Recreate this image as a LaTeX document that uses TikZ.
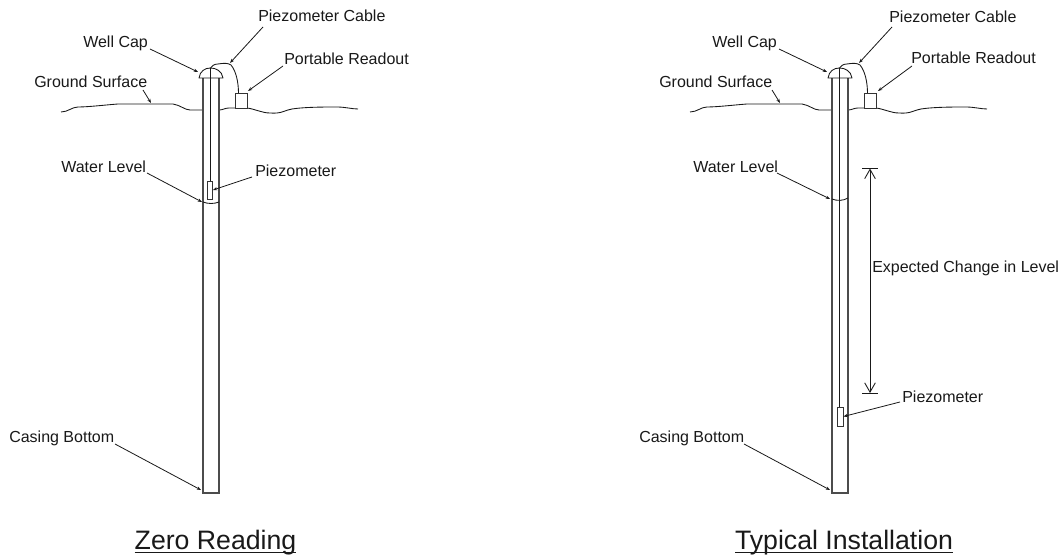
\documentclass[tikz,border=0pt]{standalone}
\usepackage{fontspec}
\setmainfont{Liberation Sans}
\usetikzlibrary{arrows.meta}
\newsavebox{\ttlbox}
\newcommand{\ttlul}[1]{\sbox{\ttlbox}{#1}\rlap{\rule[-3pt]{\wd\ttlbox}{1.1pt}}#1}
\tikzset{
  px/.style={x=0.75pt,y=-0.75pt},
  lbl/.style={inner sep=0pt,anchor=base west,font=\fontsize{12}{14}\selectfont,text=black!90},
  ttl/.style={inner sep=0pt,anchor=base,font=\fontsize{20}{24}\selectfont,text=black!90},
  leader/.style={draw=black!90,line width=0.6pt,-{Stealth[length=3.2pt,width=2.4pt]}},
  casing/.style={draw=black!70,line width=0.8pt},
  thinline/.style={draw=black!90,line width=0.65pt,line join=round},
  partbox/.style={draw=black!80,line width=0.65pt,fill=white,inner sep=0pt,minimum width=0pt},
}
% shared surface installation, drawn at the origin of the enclosing scope
\newcommand{\wellpanel}{%
  \draw[thinline] (61,112) .. controls (68,112) and (72,107) .. (78,107)
    .. controls (88,107) and (105,105) .. (118,104) -- (173,104)
    .. controls (180,105) and (185,110) .. (190,110) -- (203,110);
  \draw[thinline] (219,110) .. controls (223,110) and (225,108) .. (229,108) -- (247,108)
    .. controls (255,109) and (262,113) .. (270,113)
    .. controls (282,114) and (285,110) .. (292,109)
    .. controls (305,107) and (325,107) .. (337,107)
    .. controls (345,107) and (352,109) .. (358,109);
  \draw[casing] (203,78) -- (203,493) -- (219,493) -- (219,78);
  \draw[thinline,fill=white] (199,78) .. controls (200,71) and (205,68) .. (210.5,68)
    .. controls (216,68) and (222,71) .. (223,78) -- cycle;
  \draw[thinline] (210.5,68) .. controls (212,66) and (214,64) .. (218,64)
    .. controls (224,63) and (228,63) .. (231,65)
    .. controls (236,71) and (238.5,82) .. (238.5,93.5);
  \draw[partbox] (235,93.5) rectangle (247.5,108);
}
\begin{document}
\begin{tikzpicture}[px]
\useasboundingbox (0,0) rectangle (1060,555);
\fill[white] (0,0) rectangle (1060,555);
% ---------- left panel
\begin{scope}
  \wellpanel
  \draw[thinline] (210.5,68) -- (210.5,181);
  \node[partbox,minimum width=3.75pt,minimum height=13.5pt] (Lpiezo) at (210,190) {};
  \draw[thinline] (203,202) .. controls (208,204) and (214,204) .. (219,202);
\end{scope}
\node[lbl] (Lcap) at (83,48) {Well Cap};
\node[lbl] (Lcable) at (258,22) {Piezometer Cable};
\node[lbl] (Lread) at (284,65) {Portable Readout};
\node[lbl] (Lground) at (34,88) {Ground Surface};
\node[lbl] (Lwater) at (61,173) {Water Level};
\node[lbl] (Lpz) at (255,177) {Piezometer};
\node[lbl] (Lbot) at (9,443) {Casing Bottom};
\node[ttl] (Ltitle) at (215.5,549) {\ttlul{Zero Reading}};
\coordinate (Lcapend) at (198,72);
\coordinate (Lcableend) at (230,63);
\coordinate (Lreadend) at (248,91);
\coordinate (Lgroundend) at (151,103);
\coordinate (Lwaterend) at (202,202);
\coordinate (Lbotend) at (201,490);
\draw[leader] (150,49) -- (Lcapend);
\draw[leader] (263,27) -- (Lcableend);
\draw[leader] (283,66) -- (Lreadend);
\draw[leader] (143,90) -- (Lgroundend);
\draw[leader] (147,173) -- (Lwaterend);
\draw[leader] (252,177) -- (Lpiezo.east);
\draw[leader] (115,444) -- (Lbotend);
% ---------- right panel
\begin{scope}[xshift=471.75pt]
  \wellpanel
\end{scope}
\draw[thinline] (839.5,68) -- (839.5,407);
\node[partbox,minimum width=4.5pt,minimum height=14.25pt] (Rpiezo) at (840,416.5) {};
\draw[thinline] (832,199) .. controls (837,201) and (843,201) .. (848,198);
\node[lbl] (Rcap) at (712,48) {Well Cap};
\node[lbl] (Rcable) at (889,23) {Piezometer Cable};
\node[lbl] (Rread) at (911,64) {Portable Readout};
\node[lbl] (Rground) at (659,88) {Ground Surface};
\node[lbl] (Rwater) at (693,173) {Water Level};
\node[lbl] (Rpz) at (902,403) {Piezometer};
\node[lbl] (Rbot) at (639,443) {Casing Bottom};
\node[lbl] (Rexp) at (872,273) {Expected Change in Level};
\node[ttl] (Rtitle) at (844,549) {\ttlul{Typical Installation}};
\coordinate (Rcapend) at (827,72);
\coordinate (Rcableend) at (859,63);
\coordinate (Rreadend) at (878,91);
\coordinate (Rgroundend) at (780,103);
\coordinate (Rwaterend) at (830,199);
\coordinate (Rbotend) at (830,490);
\draw[leader] (779,49) -- (Rcapend);
\draw[leader] (892,27) -- (Rcableend);
\draw[leader] (912,66) -- (Rreadend);
\draw[leader] (772,90) -- (Rgroundend);
\draw[leader] (777,173) -- (Rwaterend);
\draw[leader] (900,402) -- (Rpiezo.east);
\draw[leader] (744,444) -- (Rbotend);
% dimension
\coordinate (dimtopL) at (862,168.5);
\coordinate (dimtopR) at (878,168.5);
\coordinate (dimbotL) at (862,393);
\coordinate (dimbotR) at (878,393);
\coordinate (dimtop) at (870,168.5);
\coordinate (dimbot) at (870,393);
\draw[thinline] (dimtopL) -- (dimtopR);
\draw[thinline] (dimbotL) -- (dimbotR);
\draw[thinline,{Straight Barb[length=7pt,width=8pt]}-{Straight Barb[length=7pt,width=8pt]}] (dimtop) -- (dimbot);
\end{tikzpicture}
\end{document}
